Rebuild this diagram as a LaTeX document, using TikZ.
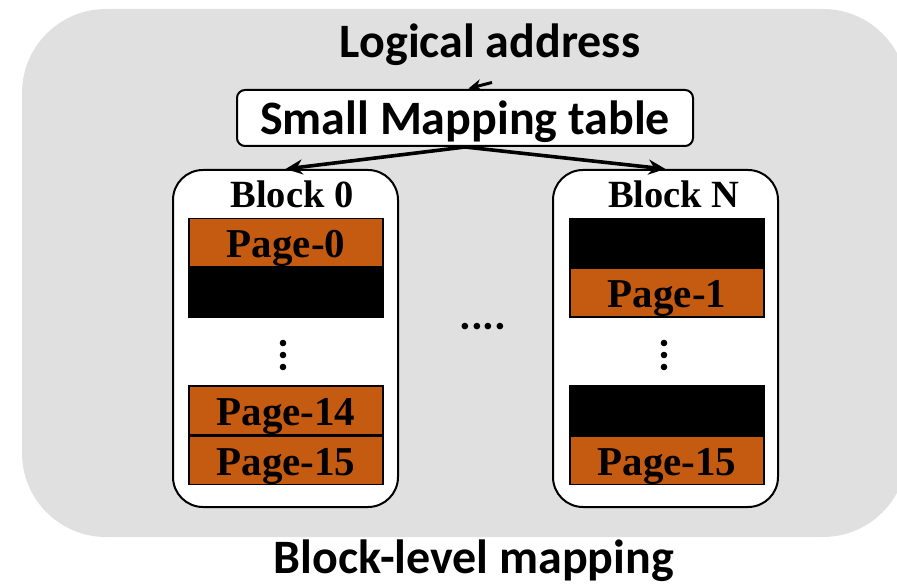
\documentclass[tikz,border=0pt]{standalone}
\usepackage{fontspec}
\setmainfont{Liberation Serif}
\newfontfamily\carlito{Carlito}
\usetikzlibrary{arrows.meta,positioning}
\definecolor{panelgray}{RGB}{224,224,224}
\definecolor{pageorange}{RGB}{197,90,17}
\begin{document}
\begin{tikzpicture}[x=1pt,y=-1pt,
  headline/.style={font=\carlito\bfseries\fontsize{48}{50}\selectfont, anchor=base, inner sep=0pt},
  blockbox/.style={draw, line width=2pt, fill=white, rounded corners=30pt,
    minimum width=225pt, minimum height=337pt, inner sep=0pt},
  blocktitle/.style={font=\bfseries\fontsize{38.5}{40}\selectfont, anchor=base, inner sep=0pt},
  pagecell/.style={draw=black, line width=1.3pt, fill=pageorange, minimum width=194pt,
    minimum height=48.5pt, inner sep=0pt, text height=38pt, text depth=8pt,
    font=\bfseries\fontsize{41}{43}\selectfont},
  freecell/.style={pagecell, fill=black},
  link/.style={line width=3.6pt, -{Stealth[length=17pt,width=15pt]}}
]
\useasboundingbox (0,0) rectangle (897,585);

% grey panel behind the mapping scheme
\fill[panelgray, rounded corners=84pt] (22,9) rectangle (907,537);

% header and mapping table
\node[headline] (la) at (490,58) {Logical address};
\node[draw, line width=2pt, fill=white, rounded corners=8pt, minimum width=456pt,
  inner sep=0pt, text height=45pt, text depth=11pt, anchor=base,
  font=\carlito\bfseries\fontsize{48}{50}\selectfont] (smt) at (465,135) {Small Mapping table};

% physical blocks
\node[blockbox] (b0) at (285.5,338.5) {};
\node[blockbox] (bN) at (665.5,338.5) {};
\node[blocktitle] (b0t) at (292,208) {Block 0};
\node[blocktitle] (bNt) at (674,208) {Block N};

% pages of block 0
\node[pagecell, anchor=north] (p0) at (286,218) {Page-0};
\node[freecell, below=0pt of p0] (f0) {};
\node[pagecell, anchor=south] (p15) at (286,485) {Page-15};
\node[pagecell, above=0pt of p15] (p14) {Page-14};

% pages of block N
\node[freecell, anchor=north] (f1) at (667,218) {};
\node[pagecell, below=0pt of f1] (q1) {Page-1};
\node[pagecell, anchor=south] (q15) at (667,485) {Page-15};
\node[freecell, above=0pt of q15] (f2) {};

% vertical ellipses inside the blocks
\foreach \yy in {343,355,367} {
  \fill (283,\yy) circle (3.3pt);
  \fill (664,\yy) circle (3.3pt);
}

% blocks in between
\node[font=\carlito\bfseries\fontsize{44}{46}\selectfont, anchor=base, inner sep=0pt] (gap) at (483,330) {....};

% caption
\node[headline] (cap) at (474,573) {Block-level mapping};

% connectors
\coordinate (upTail) at (492,82.5);
\coordinate (upTip) at (468.5,88.5);
\draw[line width=3pt, -{Stealth[length=13pt,width=12pt]}] (upTail) -- (upTip);
\draw[link] (smt.south) -- (b0.north);
\draw[link] (smt.south) -- (bN.north);
\end{tikzpicture}
\end{document}
